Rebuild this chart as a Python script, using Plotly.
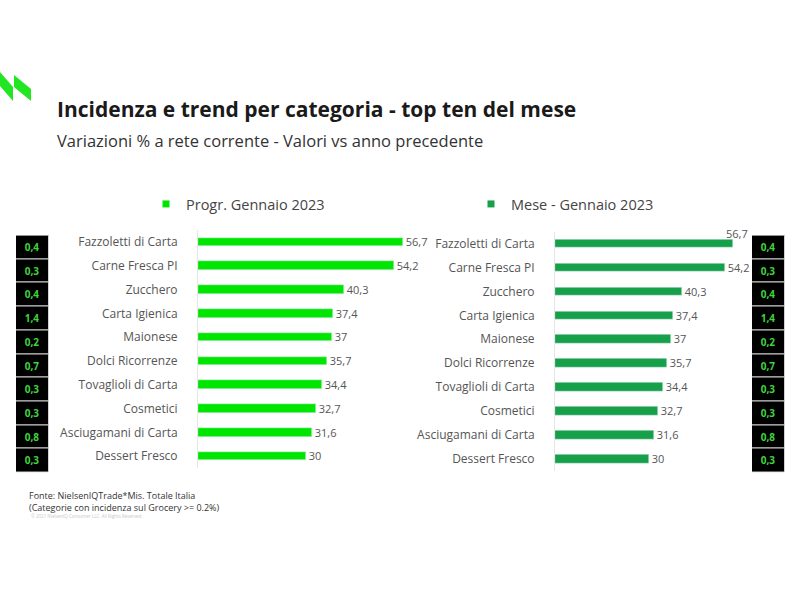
import plotly.graph_objects as go

categories = ["Fazzoletti di Carta", "Carne Fresca PI", "Zucchero", "Carta Igienica", "Maionese",
              "Dolci Ricorrenze", "Tovaglioli di Carta", "Cosmetici", "Asciugamani di Carta", "Dessert Fresco"]
progr_values = [56.7, 54.2, 40.3, 37.4, 37.0, 35.7, 34.4, 32.7, 31.6, 30.0]
mese_values = [56.7, 54.2, 40.3, 37.4, 37.0, 35.7, 34.4, 32.7, 31.6, 30.0]
incidenza = [0.4, 0.3, 0.4, 1.4, 0.2, 0.7, 0.3, 0.3, 0.8, 0.3]

series_names = ["Progr. Gennaio 2023", "Mese - Gennaio 2023"]
series_colors = ["#00e600", "#16a04a"]
title_text = "Incidenza e trend per categoria - top ten del mese"
subtitle_text = "Variazioni % a rete corrente - Valori vs anno precedente"
footer_lines = ["Fonte: NielsenIQTrade*Mis. Totale Italia",
                "(Categorie con incidenza sul Grocery >= 0.2%)"]
copyright_text = "© 2021 NielsenIQ Consumer LLC. All Rights Reserved."

W, H = 800, 600
FONT = "Open Sans"


def it(v):
    return ("%g" % v).replace(".", ",")


def px(x):
    return x / W


def py(y):
    return 1 - y / H


fig = go.Figure()

# left bars
fig.add_trace(go.Bar(
    x=progr_values, y=categories, orientation="h", name=series_names[0],
    marker=dict(color=series_colors[0]), width=0.36,
    text=[it(v) for v in progr_values], textposition="outside", cliponaxis=False,
    constraintext="none",
    textfont=dict(family=FONT, size=11, color="#555555"),
    xaxis="x", yaxis="y", showlegend=False,
))

# right bars (first label placed above via annotation)
right_text = [it(v) for v in mese_values]
right_text[0] = ""
fig.add_trace(go.Bar(
    x=mese_values, y=categories, orientation="h", name=series_names[1],
    marker=dict(color=series_colors[1]), width=0.36,
    text=right_text, textposition="outside", cliponaxis=False,
    constraintext="none",
    textfont=dict(family=FONT, size=11, color="#555555"),
    xaxis="x2", yaxis="y2", showlegend=False,
))

# legend entries (small square symbols)
for name, col, lg, xa, ya in ((series_names[0], series_colors[0], "legend", "x", "y"),
                              (series_names[1], series_colors[1], "legend2", "x2", "y2")):
    fig.add_trace(go.Scatter(
        x=[None], y=[None], mode="markers", name=name,
        marker=dict(symbol="square", size=7, color=col),
        legend=lg, xaxis=xa, yaxis=ya, showlegend=True,
    ))

# incidence boxes
for xa, ya in (("x3", "y3"), ("x4", "y4")):
    fig.add_trace(go.Bar(
        x=[1] * len(incidenza), y=categories, orientation="h", width=1,
        marker=dict(color="#000000", line=dict(color="#d0d0d0", width=1)),
        text=[it(v) for v in incidenza], textposition="inside", insidetextanchor="middle",
        constraintext="none",
        textfont=dict(family=FONT, size=10, color="#3fd43f", weight=700),
        showlegend=False, hoverinfo="skip", xaxis=xa, yaxis=ya,
    ))

rev = [len(categories) - 0.5, -0.5]
tickfont = dict(family=FONT, size=12, color="#555555")

fig.update_layout(
    width=W, height=H, autosize=False,
    margin=dict(l=0, r=0, t=0, b=0),
    paper_bgcolor="white", plot_bgcolor="rgba(0,0,0,0)",
    bargap=0, barmode="overlay",
    font=dict(family=FONT, color="#555555"),
    xaxis=dict(domain=[px(198), px(451)], range=[0, 70], visible=False),
    yaxis=dict(domain=[py(468), py(230)], range=rev, type="category",
               showline=True, linecolor="#e6e6e6", linewidth=1, showgrid=False,
               ticks="", ticklabelstandoff=17, zeroline=False,
               tickfont=tickfont, anchor="x"),
    xaxis2=dict(domain=[px(555), px(775)], range=[0, 70], visible=False, anchor="y2"),
    yaxis2=dict(domain=[py(471), py(231.5)], range=rev, type="category",
                showline=True, linecolor="#e6e6e6", linewidth=1, showgrid=False,
                ticks="", ticklabelstandoff=17, zeroline=False,
                tickfont=tickfont, anchor="x2"),
    xaxis3=dict(domain=[px(16), px(49)], range=[0, 1], visible=False, anchor="y3"),
    yaxis3=dict(domain=[py(472.5), py(235.5)], range=rev, type="category", visible=False, anchor="x3"),
    xaxis4=dict(domain=[px(752), px(785)], range=[0, 1], visible=False, anchor="y4"),
    yaxis4=dict(domain=[py(472.5), py(235.5)], range=rev, type="category", visible=False, anchor="x4"),
    legend=dict(x=px(146), y=py(204), xanchor="left", yanchor="middle", orientation="h",
                font=dict(family=FONT, size=14.5, color="#444444"), itemwidth=30,
                bgcolor="rgba(0,0,0,0)"),
    legend2=dict(x=px(471), y=py(204), xanchor="left", yanchor="middle", orientation="h",
                 font=dict(family=FONT, size=14.5, color="#444444"), itemwidth=30,
                 bgcolor="rgba(0,0,0,0)"),
    showlegend=True,
)

annotations = [
    dict(text=title_text, x=px(55), y=py(109), xref="paper", yref="paper", xanchor="left",
         yanchor="middle", showarrow=False,
         font=dict(family=FONT, size=21, color="#1a1a1a", weight=700)),
    dict(text=subtitle_text, x=px(55), y=py(140), xref="paper", yref="paper", xanchor="left",
         yanchor="middle", showarrow=False, font=dict(family=FONT, size=16.5, color="#333333")),
    dict(text="<br>".join(footer_lines), x=px(27), y=py(501), xref="paper", yref="paper",
         xanchor="left", yanchor="middle", align="left", showarrow=False,
         font=dict(family=FONT, size=9, color="#333333")),
    dict(text=copyright_text, x=px(29), y=py(516), xref="paper", yref="paper", xanchor="left",
         yanchor="middle", showarrow=False, font=dict(family=FONT, size=4.5, color="#c8c8c8")),
    dict(text=it(mese_values[0]), x=mese_values[0], y=categories[0], xref="x2", yref="y2",
         xanchor="center", yanchor="middle", xshift=4, yshift=10, showarrow=False,
         font=dict(family=FONT, size=11, color="#555555")),
]
fig.update_layout(annotations=annotations)


# logo
def poly(pts):
    return "M " + " L ".join(f"{px(x)},{py(y)}" for x, y in pts) + " Z"


fig.update_layout(shapes=[
    dict(type="path", xref="paper", yref="paper", line=dict(width=0), fillcolor="#22e622",
         path=poly([(0, 72), (13, 87), (13, 101), (0, 86)])),
    dict(type="path", xref="paper", yref="paper", line=dict(width=0), fillcolor="#22e622",
         path=poly([(14, 75), (31, 89), (31, 101), (14, 87)])),
])

fig.write_html("out.html", config={"displayModeBar": False},
               post_script="document.body.style.margin='0';document.body.style.overflow='hidden';")
